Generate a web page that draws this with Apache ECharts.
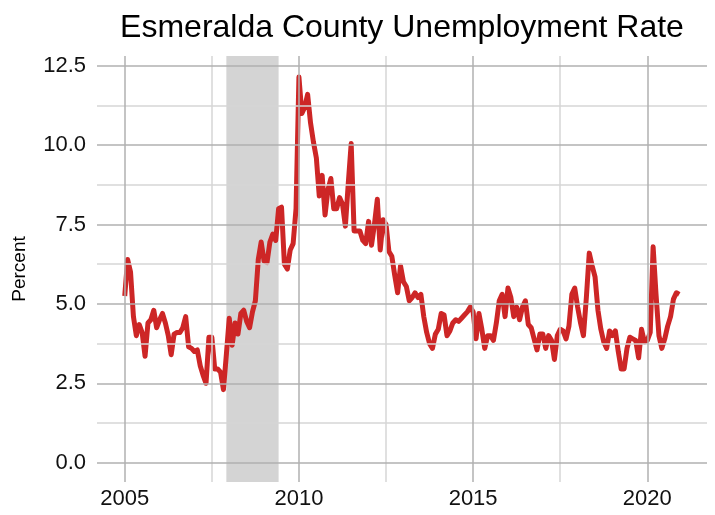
<!DOCTYPE html>
<html>
<head>
<meta charset="utf-8">
<title>Esmeralda County Unemployment Rate</title>
<script src="https://cdn.jsdelivr.net/npm/echarts@6/dist/echarts.min.js"></script>
<style>
  html, body { margin: 0; padding: 0; background: #fff; }
  #chart { width: 715px; height: 515px; }
</style>
</head>
<body>
<div id="chart"></div>
<script>
// monthly series, first value = Jan 2005
const startYear = 2005;
const rate = [
  5.25, 6.4, 6.0, 4.6, 4.0, 4.35, 4.1, 3.35, 4.4, 4.5, 4.8, 4.25,   // 2005
  4.5, 4.7, 4.4, 4.0, 3.4, 4.05, 4.1, 4.1, 4.25, 4.6, 3.65, 3.6,    // 2006
  3.5, 3.55, 3.05, 2.75, 2.5, 3.95, 3.95, 2.95, 2.95, 2.85, 2.3, 3.4, // 2007
  4.55, 3.7, 4.4, 4.05, 4.7, 4.8, 4.45, 4.25, 4.75, 5.1, 6.4, 6.95, // 2008
  6.35, 6.3, 6.95, 7.2, 7.0, 8.0, 8.05, 6.25, 6.1, 6.7, 6.9, 8.0,   // 2009
  12.15, 11.0, 11.2, 11.6, 10.7, 10.1, 9.6, 8.4, 9.05, 7.8, 8.6, 8.95, // 2010
  8.0, 8.0, 8.35, 8.15, 7.45, 8.8, 10.05, 7.3, 7.3, 7.3, 7.0, 6.9,  // 2011
  7.6, 6.85, 7.5, 8.3, 6.7, 7.65, 7.5, 6.65, 6.5, 5.9, 5.35, 6.2,   // 2012
  5.7, 5.55, 5.1, 5.2, 5.35, 5.2, 5.3, 4.6, 4.1, 3.75, 3.6, 4.05,   // 2013
  4.2, 4.7, 4.65, 4.0, 4.15, 4.4, 4.5, 4.45, 4.55, 4.65, 4.75, 4.9, // 2014
  4.75, 3.9, 4.7, 4.2, 3.6, 4.0, 4.0, 3.85, 4.4, 5.1, 5.3, 4.6,     // 2015
  5.5, 5.2, 4.6, 4.9, 4.5, 4.9, 5.1, 4.35, 4.25, 3.9, 3.55, 4.05,   // 2016
  4.05, 3.6, 4.0, 3.85, 3.25, 4.0, 4.2, 4.15, 3.9, 4.3, 5.3, 5.5,   // 2017
  4.9, 4.4, 4.0, 5.2, 6.6, 6.2, 5.85, 4.8, 4.2, 3.8, 3.6, 4.15,     // 2018
  4.0, 4.15, 3.5, 2.95, 2.95, 3.6, 3.95, 3.9, 3.85, 3.3, 4.2, 3.8,  // 2019
  3.85, 4.1, 6.8, 5.3, 4.0, 3.6, 3.9, 4.3, 4.6, 5.15, 5.35, 5.3     // 2020
];

// recession: Dec 2007 - Jun 2009
const recessionStart = 2007 + 11 / 12;
const recessionEnd = 2009 + 5 / 12;

const yTicks = [0, 2.5, 5, 7.5, 10, 12.5];
const yMinor = [1.25, 3.75, 6.25, 8.75, 11.25];
const xTicks = [2005, 2010, 2015, 2020];
const xMinor = [2007.5, 2012.5, 2017.5];

const font = 'Liberation Sans, Arial, Helvetica, sans-serif';
const majorColor = '#b0b0b0';
const minorColor = '#d6d6d6';

const chart = echarts.init(document.getElementById('chart'));

const points = rate.map((v, i) => [startYear + i / 12, v]);

function gridLines(xs, ys, color, width) {
  return {
    type: 'line',
    data: [],
    z: 1,
    silent: true,
    markLine: {
      silent: true,
      symbol: 'none',
      animation: false,
      label: { show: false },
      lineStyle: { color: color, width: width, type: 'solid' },
      emphasis: { disabled: true },
      data: xs.map(x => ({ xAxis: x })).concat(ys.map(y => ({ yAxis: y })))
    }
  };
}

chart.setOption({
  animation: false,
  backgroundColor: '#fff',
  title: {
    text: 'Esmeralda County Unemployment Rate',
    left: 402,
    top: 12,
    padding: 0,
    textAlign: 'center',
    textStyle: { fontFamily: font, fontSize: 32, fontWeight: 'normal', color: '#000' }
  },
  grid: { left: 97, right: 8, top: 56, bottom: 33, containLabel: false },
  xAxis: {
    type: 'value',
    min: 2004.204,
    max: 2021.713,
    axisLine: { show: false },
    axisTick: { show: false },
    splitLine: { show: false },
    axisLabel: {
      customValues: xTicks,
      margin: 6,
      fontFamily: font,
      fontSize: 22,
      color: '#111',
      formatter: v => String(v)
    }
  },
  yAxis: {
    type: 'value',
    min: -0.61,
    max: 12.81,
    name: 'Percent',
    nameLocation: 'middle',
    nameRotate: 90,
    nameGap: 68,
    nameTextStyle: { fontFamily: font, fontSize: 19, color: '#000' },
    axisLine: { show: false },
    axisTick: { show: false },
    splitLine: { show: false },
    axisLabel: {
      customValues: yTicks,
      margin: 11,
      fontFamily: font,
      fontSize: 22,
      color: '#111',
      formatter: v => v.toFixed(1)
    }
  },
  series: [
    gridLines(xMinor, yMinor, minorColor, 1.5),
    gridLines(xTicks, yTicks, majorColor, 1.5),
    {
      type: 'line',
      data: [],
      z: 2,
      silent: true,
      markArea: {
        silent: true,
        itemStyle: { color: 'rgba(160,160,160,0.45)' },
        data: [[{ xAxis: recessionStart }, { xAxis: recessionEnd }]]
      }
    },
    {
      name: 'Unemployment rate',
      type: 'line',
      data: points,
      z: 3,
      showSymbol: false,
      symbol: 'none',
      lineStyle: { color: '#cd2626', width: 5, join: 'round', cap: 'butt' }
    }
  ]
});
</script>
</body>
</html>
